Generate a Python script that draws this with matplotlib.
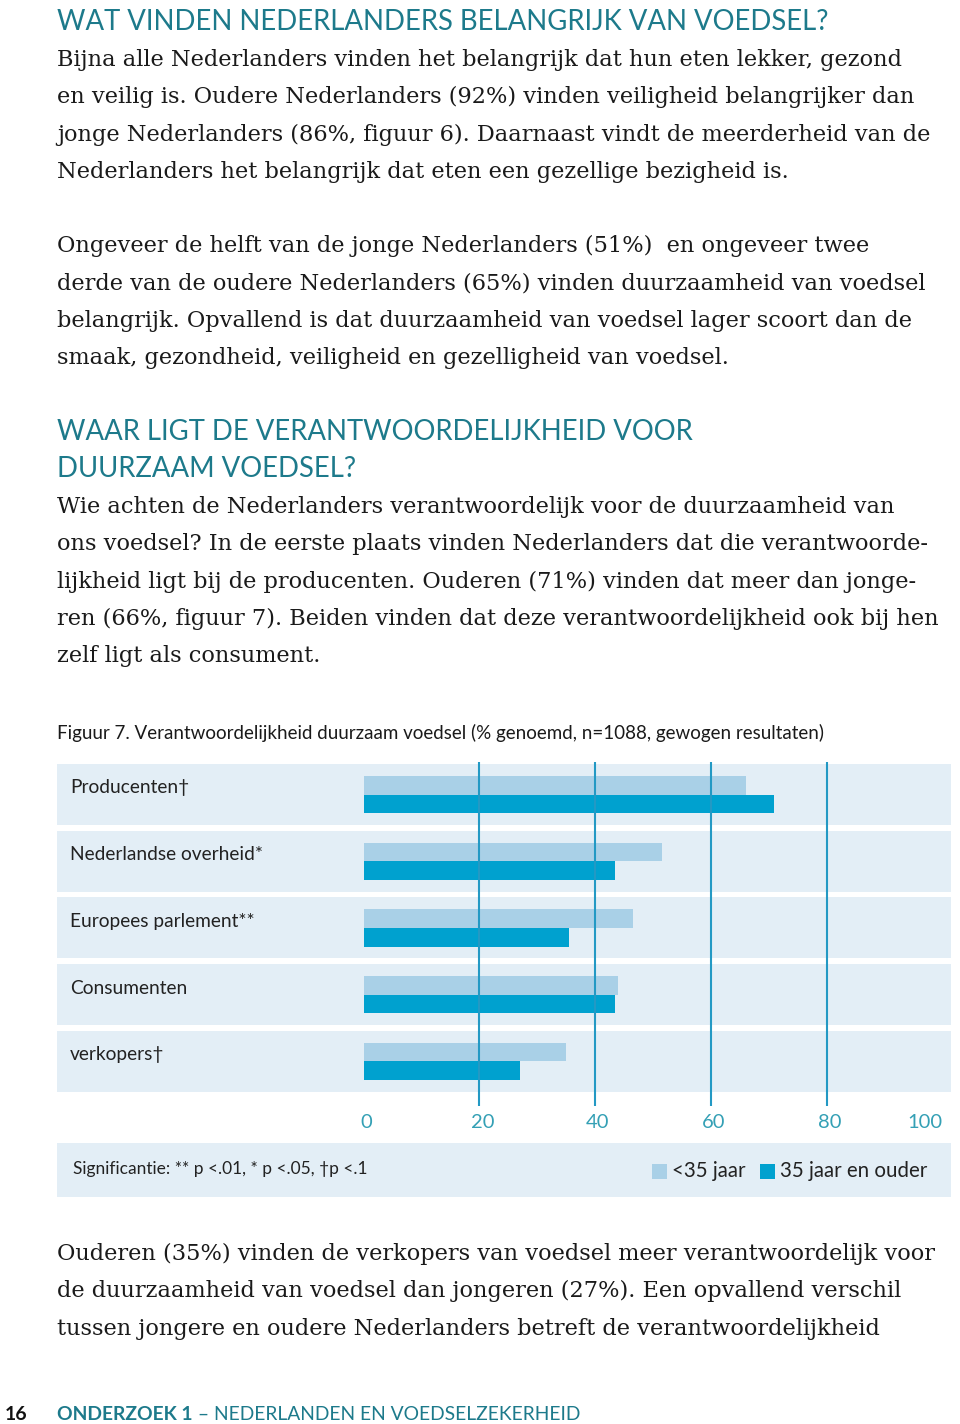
import matplotlib
matplotlib.use("Agg")
import matplotlib.pyplot as plt
import matplotlib.patches as mpatches
import matplotlib.transforms as mtransforms

# data (% genoemd)
categories = ["Producenten†", "Nederlandse overheid*", "Europees parlement**",
              "Consumenten", "verkopers†"]
jong = [66, 51.5, 46.5, 44, 35]      # <35 jaar
oud = [71, 43.5, 35.5, 43.5, 27]     # 35 jaar en ouder
ticks = [0, 20, 40, 60, 80, 100]

teal = "#1d7a8b"
band = "#e3eef6"
light = "#a9d0e7"
dark = "#00a1cf"
grid = "#2399c4"
tick_col = "#34a0b5"

head1 = "WAT VINDEN NEDERLANDERS BELANGRIJK VAN VOEDSEL?"
body1 = ["Bijna alle Nederlanders vinden het belangrijk dat hun eten lekker, gezond",
         "en veilig is. Oudere Nederlanders (92%) vinden veiligheid belangrijker dan",
         "jonge Nederlanders (86%, figuur 6). Daarnaast vindt de meerderheid van de",
         "Nederlanders het belangrijk dat eten een gezellige bezigheid is."]
body2 = ["Ongeveer de helft van de jonge Nederlanders (51%)  en ongeveer twee",
         "derde van de oudere Nederlanders (65%) vinden duurzaamheid van voedsel",
         "belangrijk. Opvallend is dat duurzaamheid van voedsel lager scoort dan de",
         "smaak, gezondheid, veiligheid en gezelligheid van voedsel."]
head2 = ["WAAR LIGT DE VERANTWOORDELIJKHEID VOOR", "DUURZAAM VOEDSEL?"]
body3 = ["Wie achten de Nederlanders verantwoordelijk voor de duurzaamheid van",
         "ons voedsel? In de eerste plaats vinden Nederlanders dat die verantwoorde-",
         "lijkheid ligt bij de producenten. Ouderen (71%) vinden dat meer dan jonge-",
         "ren (66%, figuur 7). Beiden vinden dat deze verantwoordelijkheid ook bij hen",
         "zelf ligt als consument."]
body4 = ["Ouderen (35%) vinden de verkopers van voedsel meer verantwoordelijk voor",
         "de duurzaamheid van voedsel dan jongeren (27%). Een opvallend verschil",
         "tussen jongere en oudere Nederlanders betreft de verantwoordelijkheid"]

W, H = 960, 1424
fig = plt.figure(figsize=(9.6, 14.24), dpi=100)


def fx(x):
    return x / W


def fy(y):
    return 1 - y / H


sans = ["Lato", "DejaVu Sans"]
serif = ["DejaVu Serif"]


def lines(txts, y0, step=37.3, **kw):
    for i, t in enumerate(txts):
        fig.text(fx(57), fy(y0 + i * step), t, va="center", ha="left", **kw)


body_kw = dict(family=serif, fontsize=16.2, color="#1a1a1a")
head_kw = dict(family=sans, fontsize=19.8, color=teal)

lines([head1], 22, **head_kw)
lines(body1, 60, **body_kw)
lines(body2, 246, **body_kw)
lines(head2, 432, **head_kw)
lines(body3, 507, **body_kw)
lines(body4, 1254, **body_kw)

fig.text(fx(57), fy(733),
         "Figuur 7. Verantwoordelijkheid duurzaam voedsel (% genoemd, n=1088, gewogen resultaten)",
         family=sans, fontsize=13.5, color="#1a1a1a", va="center")

# chart
ax = fig.add_axes([fx(57), fy(1106), (951 - 57) / W, (1106 - 762) / H])
ax.set_xlim(-53.02, 101.52)
ax.set_ylim(4.667, -0.487)
ax.axis("off")

lab_tr = mtransforms.blended_transform_factory(ax.transAxes, ax.transData)
for i, cat in enumerate(categories):
    ax.axhspan(i - 0.457, i + 0.457, color=band, lw=0, zorder=0)
    ax.text(0.0146, i - 0.1, cat, transform=lab_tr,
            family=sans, fontsize=13.8, color="#222222", va="center", ha="left")

ys = list(range(len(categories)))
ax.barh([y - 0.14 for y in ys], jong, height=0.28, color=light, zorder=1)
ax.barh([y + 0.14 for y in ys], oud, height=0.28, color=dark, zorder=1)

for v in ticks[1:-1]:
    ax.axvline(v, color=grid, lw=1.5, zorder=3)

tr = mtransforms.blended_transform_factory(ax.transData, fig.transFigure)
for v in ticks:
    ha = "right" if v == ticks[-1] else "center"
    ax.text(v + (0.5 if v != ticks[-1] else 0), fy(1122), str(v), transform=tr, ha=ha, va="center",
            family=sans, fontsize=14.5, color=tick_col)

# legend strip
fig.patches.append(mpatches.Rectangle((fx(57), fy(1197)), (951 - 57) / W, 54 / H,
                                      transform=fig.transFigure, color=band, lw=0))
fig.text(fx(73), fy(1169), "Significantie: ** p <.01, * p <.05, †p <.1",
         family=sans, fontsize=12.5, color="#222222", va="center")
fig.patches.append(mpatches.Rectangle((fx(652), fy(1179)), 15 / W, 15 / H,
                                      transform=fig.transFigure, color=light, lw=0))
fig.text(fx(672), fy(1171), "<35 jaar", family=sans, fontsize=14.8, color="#222222", va="center")
fig.patches.append(mpatches.Rectangle((fx(760), fy(1179)), 15 / W, 15 / H,
                                      transform=fig.transFigure, color=dark, lw=0))
fig.text(fx(780), fy(1171), "35 jaar en ouder", family=sans, fontsize=14.8, color="#222222", va="center")

# footer
fig.text(fx(5), fy(1414), "16", family=sans, fontsize=14, weight="bold", color="#111111", va="center")
ft = fig.text(fx(57), fy(1414), "ONDERZOEK 1", family=sans, fontsize=13.9, weight="bold",
              color=teal, va="center")
fig.canvas.draw()
bb = ft.get_window_extent()
fig.text(bb.x1 / W, fy(1414), " – NEDERLANDEN EN VOEDSELZEKERHEID", family=sans, fontsize=13.9,
         color=teal, va="center")

fig.savefig("out.png", dpi=100)
